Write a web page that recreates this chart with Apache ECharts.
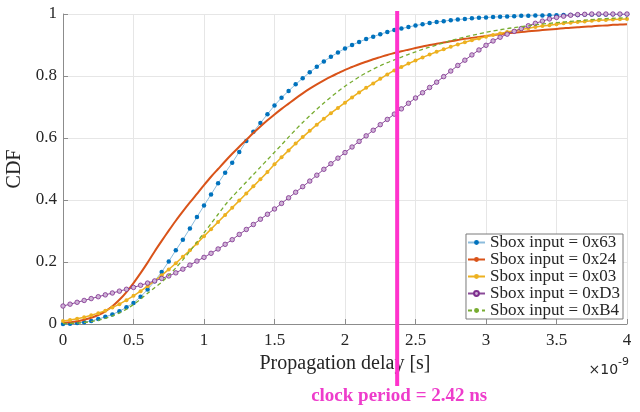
<!DOCTYPE html>
<html><head><meta charset="utf-8">
<script src="https://cdn.jsdelivr.net/npm/echarts@6/dist/echarts.min.js"></script>
<style>html,body{margin:0;padding:0;background:#fff}#c{width:640px;height:412px}</style>
</head><body><div id="c"></div><script>
// propagation delay in units of 1e-9 s
const xs = [0,0.05,0.1,0.15,0.2,0.25,0.3,0.35,0.4,0.45,0.5,0.55,0.6,0.65,0.7,0.75,0.8,0.85,0.9,0.95,
1,1.05,1.1,1.15,1.2,1.25,1.3,1.35,1.4,1.45,1.5,1.55,1.6,1.65,1.7,1.75,1.8,1.85,1.9,1.95,
2,2.05,2.1,2.15,2.2,2.25,2.3,2.35,2.4,2.45,2.5,2.55,2.6,2.65,2.7,2.75,2.8,2.85,2.9,2.95,
3,3.05,3.1,3.15,3.2,3.25,3.3,3.35,3.4,3.45,3.5,3.55,3.6,3.65,3.7,3.75,3.8,3.85,3.9,3.95,4];
const names = ['Sbox input = 0x63','Sbox input = 0x24','Sbox input = 0x03','Sbox input = 0xD3','Sbox input = 0xB4'];
const cdf63 = [0.000,0.001,0.003,0.006,0.010,0.016,0.023,0.031,0.041,0.054,0.068,0.088,0.111,0.138,0.168,0.202,0.238,0.272,0.308,0.345,
0.382,0.418,0.454,0.488,0.520,0.555,0.590,0.620,0.648,0.677,0.705,0.730,0.752,0.773,0.793,0.812,0.830,0.847,0.862,0.876,
0.889,0.900,0.910,0.919,0.927,0.935,0.942,0.948,0.953,0.958,0.963,0.967,0.971,0.974,0.977,0.980,0.982,0.984,0.986,0.988,
0.989,0.990,0.991,0.992,0.993,0.994,0.994,0.995,0.995,0.996,0.996,0.997,0.997,0.997,0.998,0.998,0.998,0.998,0.999,0.999,0.999];
const cdf24 = [0.004,0.006,0.009,0.014,0.020,0.029,0.041,0.057,0.078,0.103,0.132,0.164,0.198,0.234,0.268,0.301,0.333,0.363,0.392,0.420,
0.448,0.475,0.500,0.525,0.549,0.572,0.594,0.616,0.637,0.657,0.676,0.694,0.711,0.728,0.744,0.759,0.773,0.786,0.798,0.809,
0.820,0.829,0.838,0.846,0.854,0.861,0.868,0.874,0.880,0.885,0.890,0.895,0.900,0.904,0.908,0.912,0.916,0.920,0.923,0.926,
0.929,0.932,0.935,0.937,0.940,0.942,0.944,0.946,0.948,0.950,0.952,0.954,0.956,0.957,0.959,0.960,0.962,0.963,0.965,0.966,0.967];
const cdf03 = [0.010,0.013,0.017,0.022,0.028,0.035,0.043,0.053,0.064,0.077,0.091,0.106,0.122,0.139,0.157,0.176,0.196,0.217,0.238,0.260,
0.283,0.306,0.329,0.352,0.375,0.398,0.421,0.444,0.467,0.490,0.515,0.538,0.560,0.582,0.603,0.623,0.643,0.662,0.680,0.697,
0.714,0.731,0.747,0.762,0.776,0.791,0.805,0.818,0.829,0.840,0.850,0.860,0.869,0.878,0.886,0.894,0.902,0.909,0.915,0.921,
0.927,0.932,0.937,0.942,0.946,0.950,0.954,0.958,0.961,0.964,0.967,0.970,0.972,0.974,0.976,0.978,0.980,0.981,0.982,0.983,0.984];
const cdfD3 = [0.058,0.064,0.070,0.076,0.082,0.088,0.094,0.100,0.106,0.112,0.118,0.125,0.132,0.139,0.147,0.155,0.165,0.177,0.190,0.203,
0.215,0.228,0.242,0.257,0.272,0.289,0.305,0.321,0.338,0.354,0.371,0.389,0.407,0.425,0.443,0.461,0.480,0.499,0.517,0.535,
0.553,0.571,0.589,0.607,0.625,0.643,0.660,0.677,0.694,0.712,0.729,0.746,0.763,0.780,0.798,0.816,0.834,0.851,0.868,0.884,
0.899,0.913,0.925,0.935,0.944,0.953,0.962,0.970,0.977,0.984,0.989,0.993,0.996,0.998,0.999,1.000,1.000,1.000,1.000,1.000,1.000];
const cdfB4 = [0.001,0.002,0.003,0.005,0.008,0.012,0.018,0.026,0.036,0.048,0.063,0.080,0.099,0.117,0.135,0.157,0.181,0.207,0.235,0.264,
0.294,0.324,0.354,0.384,0.410,0.434,0.458,0.482,0.506,0.530,0.554,0.578,0.603,0.627,0.650,0.672,0.693,0.713,0.732,0.750,
0.767,0.782,0.797,0.810,0.822,0.833,0.843,0.852,0.861,0.870,0.878,0.886,0.893,0.900,0.907,0.914,0.920,0.926,0.931,0.936,
0.941,0.945,0.949,0.953,0.956,0.959,0.962,0.965,0.968,0.970,0.972,0.974,0.976,0.978,0.980,0.982,0.984,0.985,0.986,0.987,0.988];
const xTicks = ['0','0.5','1','1.5','2','2.5','3','3.5','4'];
const clockX = 2.37;
const clockLabel = 'clock period = 2.42 ns';

const pair = arr => xs.map((x, i) => [x, arr[i]]);
const FONT = 'Liberation Serif';
const TXT = '#262626';

const chart = echarts.init(document.getElementById('c'), null, {renderer: 'canvas'});
chart.setOption({
  animation: false,
  backgroundColor: '#fff',
  grid: {left: 63, right: 13, top: 14, bottom: 88, containLabel: false, outerBoundsMode: 'none'},
  legend: {
    orient: 'vertical', right: 17, bottom: 93,
    backgroundColor: '#fff', borderColor: '#7a7a7a', borderWidth: 1, borderRadius: 0,
    padding: [0, 3, 0, 1], itemGap: 0, itemWidth: 17, itemHeight: 6,
    textStyle: {fontFamily: FONT, fontSize: 17, color: TXT, lineHeight: 15},
    data: names
  },
  xAxis: {
    type: 'value', min: 0, max: 4, interval: 0.5,
    name: 'Propagation delay [s]', nameLocation: 'middle', nameGap: 22,
    nameTextStyle: {fontFamily: FONT, fontSize: 20, color: TXT},
    axisLine: {lineStyle: {color: '#8c8c8c'}},
    axisTick: {inside: true, length: 5, lineStyle: {color: '#8c8c8c'}},
    axisLabel: {fontFamily: FONT, fontSize: 17, color: TXT, margin: 8,
      formatter: v => xTicks[Math.round(v / 0.5)]},
    splitLine: {show: true, lineStyle: {color: '#e6e6e6'}}
  },
  yAxis: {
    type: 'value', min: 0, max: 1, interval: 0.2,
    name: 'CDF', nameLocation: 'middle', nameGap: 28,
    nameTextStyle: {fontFamily: FONT, fontSize: 20, color: TXT},
    axisLine: {show: true, lineStyle: {color: '#8c8c8c'}},
    axisTick: {show: true, inside: true, length: 5, lineStyle: {color: '#8c8c8c'}},
    axisLabel: {fontFamily: FONT, fontSize: 17, color: TXT, margin: 6,
      formatter: v => (Math.round(v * 10) / 10).toString()},
    splitLine: {show: true, lineStyle: {color: '#e6e6e6'}}
  },
  series: [
    {name: names[0], type: 'line', data: pair(cdf63), symbol: 'circle', symbolSize: 4.5,
     itemStyle: {color: '#0072BD'}, lineStyle: {color: '#8cbcdc', width: 1}, z: 2},
    {name: names[1], type: 'line', data: pair(cdf24), symbol: 'none', showSymbol: false, smooth: 0.3,
     itemStyle: {color: '#D95319'}, lineStyle: {color: '#D95319', width: 2}, z: 3},
    {name: names[2], type: 'line', data: pair(cdf03), symbol: 'circle', symbolSize: 4,
     itemStyle: {color: '#EDB120'}, lineStyle: {color: '#EDB120', width: 1.5}, z: 4},
    {name: names[3], type: 'line', data: pair(cdfD3), symbol: 'circle', symbolSize: 4.5,
     itemStyle: {color: '#cfb3d6', borderColor: '#7E2F8E', borderWidth: 0.8}, lineStyle: {color: '#8a4a98', width: 1}, z: 5},
    {name: names[4], type: 'line', data: pair(cdfB4), symbol: 'none', showSymbol: false, smooth: 0.3,
     itemStyle: {color: '#77AC30'}, lineStyle: {color: '#77AC30', width: 1.3, type: [4, 3]}, z: 6}
  ]
});

const px = chart.convertToPixel({xAxisIndex: 0}, clockX);
const right = chart.convertToPixel({xAxisIndex: 0}, 4);
chart.setOption({
  graphic: [
    {type: 'line', shape: {x1: px, y1: 11, x2: px, y2: 386}, style: {stroke: '#ff33cc', lineWidth: 4}, z: 100},
    {type: 'text', x: px + 2, y: 396, style: {text: clockLabel, fontFamily: FONT, fontWeight: 'bold', fontSize: 19,
      fill: '#ee3ccb', align: 'center', verticalAlign: 'middle'}, z: 100},
    {type: 'text', x: right + 2, y: 367, style: {
      text: '{a|×10}{b|-9}', align: 'right', verticalAlign: 'middle',
      rich: {a: {fontFamily: 'DejaVu Sans', fontSize: 14, fill: TXT, verticalAlign: 'bottom'},
             b: {fontFamily: 'DejaVu Sans', fontSize: 11, fill: TXT, verticalAlign: 'top', padding: [0, 0, 10, 0]}}}, z: 100}
  ]
});
</script></body></html>
